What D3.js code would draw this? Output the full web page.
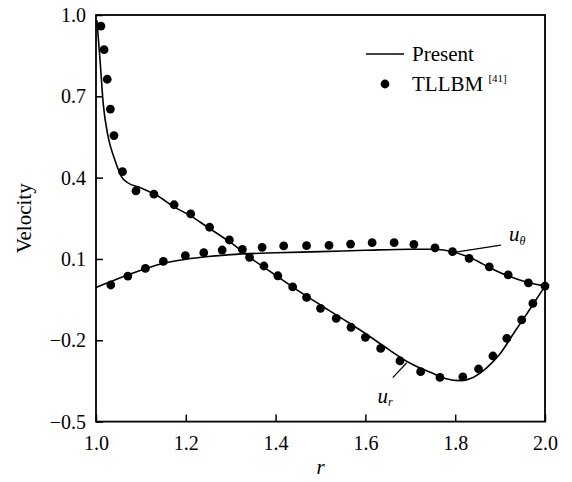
<!DOCTYPE html>
<html>
<head>
<meta charset="utf-8">
<script src="https://cdn.jsdelivr.net/npm/d3@7"></script>
<style>
  body { margin: 0; background: #fff; }
</style>
</head>
<body>
<div id="chart"></div>
<script>
// tick values
const xTicks = [1.0, 1.2, 1.4, 1.6, 1.8, 2.0];
const yTicks = [-0.5, -0.2, 0.1, 0.4, 0.7, 1.0];

// Present (solid lines)
const urLineR = [1.002, 1.009, 1.016, 1.027, 1.042, 1.057, 1.069, 1.1, 1.135, 1.173, 1.21, 1.247, 1.3, 1.35, 1.4, 1.45, 1.5, 1.55, 1.6, 1.65, 1.7, 1.75, 1.78, 1.81, 1.84, 1.87, 1.9, 1.93, 1.96, 2.0];
const urLineV = [0.98, 0.834, 0.674, 0.551, 0.465, 0.403, 0.383, 0.362, 0.335, 0.293, 0.26, 0.219, 0.16, 0.097, 0.04, -0.017, -0.07, -0.122, -0.175, -0.232, -0.285, -0.322, -0.342, -0.349, -0.337, -0.302, -0.25, -0.175, -0.101, 0.0];

const utLineR = [1.0, 1.05, 1.1, 1.15, 1.2, 1.25, 1.3, 1.4, 1.5, 1.6, 1.7, 1.75, 1.8, 1.84, 1.88, 1.92, 1.96, 2.0];
const utLineV = [-0.005, 0.028, 0.058, 0.084, 0.099, 0.109, 0.116, 0.123, 0.127, 0.132, 0.136, 0.136, 0.124, 0.100, 0.065, 0.036, 0.014, 0.0];

// TLLBM (dots)
const urDotR = [1.011, 1.018, 1.025, 1.032, 1.040, 1.059, 1.089, 1.129, 1.174, 1.211, 1.253, 1.297, 1.342, 1.374, 1.405, 1.438, 1.469, 1.500, 1.535, 1.568, 1.600, 1.634, 1.677, 1.723, 1.766, 1.817, 1.852, 1.884, 1.915, 1.948, 1.973, 2.0];
const urDotV = [0.959, 0.872, 0.763, 0.653, 0.555, 0.422, 0.351, 0.339, 0.300, 0.266, 0.217, 0.170, 0.106, 0.074, 0.038, -0.003, -0.042, -0.082, -0.119, -0.152, -0.189, -0.230, -0.276, -0.316, -0.337, -0.335, -0.306, -0.258, -0.193, -0.125, -0.064, 0.0];

const utDotR = [1.033, 1.071, 1.110, 1.150, 1.199, 1.240, 1.281, 1.326, 1.370, 1.418, 1.469, 1.519, 1.567, 1.615, 1.664, 1.708, 1.755, 1.794, 1.831, 1.876, 1.918, 1.963];
const utDotV = [0.004, 0.037, 0.065, 0.091, 0.112, 0.123, 0.133, 0.135, 0.143, 0.148, 0.149, 0.150, 0.155, 0.160, 0.160, 0.154, 0.141, 0.127, 0.102, 0.071, 0.041, 0.012];

const W = 572, H = 482;
const margin = {top: 15, right: 27, bottom: 60.4, left: 96};
const serif = "Liberation Serif";

const x = d3.scaleLinear().domain([1.0, 2.0]).range([margin.left, W - margin.right]);
const y = d3.scaleLinear().domain([-0.5, 1.0]).range([H - margin.bottom, margin.top]);

const svg = d3.select("#chart").append("svg")
	.attr("width", W)
	.attr("height", H)
	.style("font-family", serif);

const zip = (a, b) => a.map((v, i) => [v, b[i]]);

// axes with inward ticks
svg.append("g")
	.attr("transform", `translate(0,${H - margin.bottom})`)
	.call(d3.axisBottom(x).tickValues(xTicks).tickFormat(d3.format(".1f")).tickSizeInner(-7).tickSizeOuter(0).tickPadding(14))
	.call(g => g.select(".domain").remove())
	.call(g => g.selectAll("text").attr("font-size", 20));

svg.append("g")
	.attr("transform", `translate(${margin.left},0)`)
	.call(d3.axisLeft(y).tickValues(yTicks).tickFormat(d => d3.format(".1f")(d).replace("-", "\u2212")).tickSizeInner(-7).tickSizeOuter(0).tickPadding(10))
	.call(g => g.select(".domain").remove())
	.call(g => g.selectAll("text").attr("font-size", 20));

svg.selectAll(".tick line").attr("stroke", "#000").attr("stroke-width", 1.5);

// frame
svg.append("rect")
	.attr("x", x(1.0))
	.attr("y", y(1.0))
	.attr("width", x(2.0) - x(1.0))
	.attr("height", y(-0.5) - y(1.0))
	.attr("fill", "none")
	.attr("stroke", "#000")
	.attr("stroke-width", 1.8);

// lines
const line = d3.line().x(d => x(d[0])).y(d => y(d[1])).curve(d3.curveMonotoneX);

[zip(urLineR, urLineV), zip(utLineR, utLineV)].forEach(pts => {
	svg.append("path")
		.attr("d", line(pts))
		.attr("fill", "none")
		.attr("stroke", "#000")
		.attr("stroke-width", 1.6);
});

// dots
svg.append("g").selectAll("circle")
	.data(zip(urDotR, urDotV).concat(zip(utDotR, utDotV)))
	.enter()
	.append("circle")
	.attr("cx", d => x(d[0]))
	.attr("cy", d => y(d[1]))
	.attr("r", 4.4)
	.attr("fill", "#000");

// annotation leaders
svg.append("line")
	.attr("x1", x(1.801)).attr("y1", y(0.125))
	.attr("x2", x(1.902)).attr("y2", y(0.151))
	.attr("stroke", "#000").attr("stroke-width", 1.2);
svg.append("line")
	.attr("x1", x(1.661)).attr("y1", y(-0.338))
	.attr("x2", x(1.692)).attr("y2", y(-0.283))
	.attr("stroke", "#000").attr("stroke-width", 1.2);

const ut = svg.append("text")
	.attr("x", x(1.92)).attr("y", y(0.166))
	.attr("font-size", 21).attr("font-style", "italic");
ut.append("tspan").text("u");
ut.append("tspan").attr("font-size", 12).attr("dy", 4).text("\u03B8");

const ur = svg.append("text")
	.attr("x", x(1.627)).attr("y", y(-0.432))
	.attr("font-size", 21).attr("font-style", "italic");
ur.append("tspan").text("u");
ur.append("tspan").attr("font-size", 12).attr("dy", 3).text("r");

// axis titles
svg.append("text")
	.attr("x", (x(1.0) + x(2.0)) / 2)
	.attr("y", 474)
	.attr("text-anchor", "middle")
	.attr("font-size", 21)
	.attr("font-style", "italic")
	.text("r");

svg.append("text")
	.attr("transform", `translate(31,${(y(1.0) + y(-0.5)) / 2}) rotate(-90)`)
	.attr("text-anchor", "middle")
	.attr("font-size", 21)
	.text("Velocity");

// legend
svg.append("line")
	.attr("x1", 366).attr("x2", 404)
	.attr("y1", 54).attr("y2", 54)
	.attr("stroke", "#000").attr("stroke-width", 1.5);
svg.append("text").attr("x", 412).attr("y", 61).attr("font-size", 21).text("Present");
svg.append("circle").attr("cx", 385).attr("cy", 84).attr("r", 4.4).attr("fill", "#000");
const lg = svg.append("text").attr("x", 412).attr("y", 91).attr("font-size", 21);
lg.append("tspan").text("TLLBM ");
lg.append("tspan").attr("font-size", 11).attr("dy", -9).text("[41]");

// d3 axis puts sans-serif on its groups, force the serif face everywhere
svg.selectAll("text").style("font-family", serif);
</script>
</body>
</html>
